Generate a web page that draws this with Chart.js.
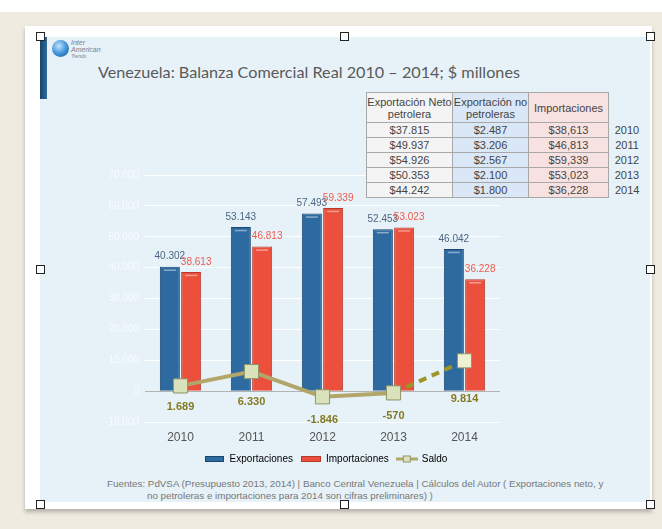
<!DOCTYPE html>
<html>
<head>
<meta charset="utf-8">
<script src="https://cdn.jsdelivr.net/npm/chart.js@4"></script>
<style>
  html, body { margin: 0; padding: 0; width: 662px; height: 529px; overflow: hidden; background: #fff; font-family: "Liberation Sans", Arial, sans-serif; }
  #paper { position: absolute; left: 0; top: 12px; width: 662px; height: 517px; background: #efebe1; }
  #card { position: absolute; left: 25px; top: 26px; width: 627px; height: 483px; background: #fff; box-shadow: 0 3px 4px rgba(0,0,0,0.25); }
  #slide { position: absolute; left: 40px; top: 37px; width: 610px; height: 465px; background: #e6f2f8; }
  #bar { position: absolute; left: 40px; top: 37px; width: 7px; height: 62px; background: linear-gradient(90deg, #17446b, #2f6b9d); }
  #globe { position: absolute; left: 52px; top: 40px; width: 17px; height: 17px; border-radius: 50%; background: radial-gradient(circle at 40% 35%, #bfe3ff, #3a8fd6 55%, #1b4f86); }
  #logo { position: absolute; left: 71px; top: 40px; font: italic 7px "Liberation Sans", Arial, sans-serif; color: #7c8088; line-height: 6.5px; }
  #title { position: absolute; left: 98px; top: 62px; font: 16.2px Lato, "Open Sans", sans-serif; color: #5a5a5a; white-space: nowrap; }
  #tbl { position: absolute; z-index: 2; left: 366px; top: 92px; border-collapse: collapse; font: 11px "Liberation Sans Narrow", "Liberation Sans", Arial, sans-serif; color: #454545; background: #e6f2f8; }
  #tbl td { text-align: center; padding: 0; height: 14px; line-height: 12px; }
  #tbl td.c { border: 1px solid #a8a8a8; }
  #tbl tr.h td { height: 29px; }
  #chart { position: absolute; z-index: 1; left: 100px; top: 163px; }
  #foot { position: absolute; left: 107px; top: 478px; font: 9.8px "Liberation Sans", Arial, sans-serif; color: #777; line-height: 12px; white-space: nowrap; }
  .hd { position: absolute; z-index: 3; width: 7px; height: 7px; border: 1px solid #222; background: #fff; }
</style>
</head>
<body>
<div id="paper"></div>
<div id="card"></div>
<div id="slide"></div>
<div id="bar"></div>
<div id="globe"></div>
<div id="logo">Inter<br>American<br><span style="font-size:5px">Trends</span></div>
<div id="title">Venezuela: Balanza Comercial Real 2010 – 2014; $ millones</div>
<table id="tbl"></table>
<canvas id="chart" width="452" height="316"></canvas>
<div id="foot">Fuentes: PdVSA (Presupuesto 2013, 2014) | Banco Central Venezuela | Cálculos del Autor ( Exportaciones neto, y<br><span style="padding-left:40px">no petroleras e importaciones para 2014 son cifras preliminares) )</span></div>
<script>
// datos
const years = ["2010", "2011", "2012", "2013", "2014"];
const exportaciones = [40302, 53143, 57493, 52453, 46042];
const importaciones = [38613, 46813, 59339, 53023, 36228];
const saldo = [1689, 6330, -1846, -570, 9814];

// tabla
const tablaHeaders = ["Exportación Neto<br>petrolera", "Exportación no<br>petroleras", "Importaciones"];
const netoPetrolera = ["$37.815", "$49.937", "$54.926", "$50.353", "$44.242"];
const noPetroleras = ["$2.487", "$3.206", "$2.567", "$2.100", "$1.800"];
const importTabla = ["$38,613", "$46,813", "$59,339", "$53,023", "$36,228"];

const colBg = ["#f4f4f4", "#d9e7f7", "#f8e1e1"];
const colW = [85, 75, 79];
let html = "<tr class='h'>";
tablaHeaders.forEach((h, i) => {
    html += "<td class='c' style='width:" + colW[i] + "px;background:" + colBg[i] + "'>" + h + "</td>";
});
html += "<td style='width:36px'></td></tr>";
years.forEach((y, i) => {
    html += "<tr>";
    [netoPetrolera, noPetroleras, importTabla].forEach((col, j) => {
        html += "<td class='c' style='background:" + colBg[j] + "'>" + col[i] + "</td>";
    });
    html += "<td>" + y + "</td></tr>";
});
document.getElementById("tbl").innerHTML = html;

// handles
[[40,36],[344,36],[650,36],[40,269],[650,269],[40,504],[344,504],[650,504]].forEach(p => {
    const d = document.createElement("div");
    d.className = "hd";
    d.style.left = (p[0] - 4) + "px";
    d.style.top = (p[1] - 4) + "px";
    document.body.appendChild(d);
});

function fmt(v) {
    const s = Math.abs(v).toString().replace(/\B(?=(\d{3})+(?!\d))/g, ".");
    return (v < 0 ? "-" : "") + s;
}

const BLUE = "#2d6aa0", BLUE_DK = "#1c4670";
const RED = "#ec4f3c", RED_DK = "#b63a2c";
const OLIVE = "#b3a66a", OLIVE_DK = "#9d9527";
const NARROW = "'Liberation Sans Narrow', 'Liberation Sans', Arial, sans-serif";

// legend icons
function icon(w, h, draw) {
    const c = document.createElement("canvas");
    c.width = w; c.height = h;
    draw(c.getContext("2d"));
    return c;
}
const iconBlue = icon(19, 6, g => { g.fillStyle = BLUE_DK; g.fillRect(0, 0, 19, 6); g.fillStyle = BLUE; g.fillRect(1, 1, 17, 4); });
const iconRed = icon(20, 6, g => { g.fillStyle = RED_DK; g.fillRect(0, 0, 20, 6); g.fillStyle = RED; g.fillRect(1, 1, 18, 4); });
const iconSaldo = icon(22, 9, g => {
    g.strokeStyle = OLIVE; g.lineWidth = 3;
    g.beginPath(); g.moveTo(0, 4.5); g.lineTo(22, 4.5); g.stroke();
    g.fillStyle = "#dbe3bd"; g.strokeStyle = "#8f9466"; g.lineWidth = 1;
    g.fillRect(7.5, 1.5, 7, 6); g.strokeRect(7.5, 1.5, 7, 6);
});

const saldoOffsets = [21, 30, 23, 23, 38];

const labelsPlugin = {
    id: "valueLabels",
    afterDatasetsDraw(chart) {
        const ctx = chart.ctx;
        ctx.save();
        // brillo de las barras
        [0, 1].forEach(di => {
            chart.getDatasetMeta(di).data.forEach(el => {
                const w = el.width;
                ctx.strokeStyle = "rgba(255,255,255,0.45)";
                ctx.lineWidth = 1.5;
                ctx.beginPath();
                ctx.moveTo(el.x - w / 2 + 4, el.y + 3.5);
                ctx.lineTo(el.x + w / 2 - 4, el.y + 3.5);
                ctx.stroke();
            });
        });
        ctx.textAlign = "center";
        ctx.textBaseline = "middle";
        ctx.font = "10px " + NARROW;
        chart.getDatasetMeta(0).data.forEach((el, i) => {
            ctx.fillStyle = "#4d6582";
            ctx.fillText(fmt(exportaciones[i]), el.x, el.y - 10);
        });
        chart.getDatasetMeta(1).data.forEach((el, i) => {
            ctx.fillStyle = "#ee5a4c";
            ctx.fillText(fmt(importaciones[i]), el.x + 5, el.y - 10);
        });
        ctx.font = "bold 11px " + NARROW;
        chart.getDatasetMeta(2).data.forEach((el, i) => {
            ctx.fillStyle = "#857a22";
            ctx.fillText(fmt(saldo[i]), el.x, el.y + saldoOffsets[i]);
        });
        ctx.restore();
    }
};

new Chart(document.getElementById("chart"), {
    type: "bar",
    data: {
        labels: years,
        datasets: [
            {
                label: "Exportaciones",
                data: exportaciones,
                backgroundColor: BLUE,
                borderColor: BLUE_DK,
                borderWidth: 1,
                categoryPercentage: 0.6,
                barPercentage: 0.94,
                order: 2
            },
            {
                label: "Importaciones",
                data: importaciones,
                backgroundColor: RED,
                borderColor: RED_DK,
                borderWidth: 1,
                categoryPercentage: 0.6,
                barPercentage: 0.94,
                order: 2
            },
            {
                type: "line",
                label: "Saldo",
                data: saldo,
                borderColor: OLIVE,
                borderWidth: 4,
                segment: {
                    borderColor: c => c.p1DataIndex === 4 ? OLIVE_DK : OLIVE,
                    borderDash: c => c.p1DataIndex === 4 ? [8, 6] : undefined
                },
                pointStyle: "rect",
                pointRadius: 10,
                pointBackgroundColor: ["#d9e2bb", "#d9e2bb", "#d9e2bb", "#d9e2bb", "#eef1d2"],
                pointBorderColor: "#8f9466",
                pointBorderWidth: 1,
                order: 0
            }
        ]
    },
    options: {
        responsive: false,
        animation: false,
        devicePixelRatio: 1,
        layout: { padding: { top: 11, bottom: 5 } },
        plugins: {
            tooltip: { enabled: false },
            legend: {
                position: "bottom",
                labels: {
                    usePointStyle: true,
                    pointStyleWidth: 20,
                    boxHeight: 10,
                    padding: 8,
                    color: "#555",
                    font: { family: "'Liberation Sans', Arial, sans-serif", size: 10 },
                    generateLabels: () => [
                        { text: "Exportaciones", pointStyle: iconBlue, fillStyle: BLUE, strokeStyle: BLUE, lineWidth: 0, hidden: false, datasetIndex: 0 },
                        { text: "Importaciones", pointStyle: iconRed, fillStyle: RED, strokeStyle: RED, lineWidth: 0, hidden: false, datasetIndex: 1 },
                        { text: "Saldo", pointStyle: iconSaldo, fillStyle: OLIVE, strokeStyle: OLIVE, lineWidth: 0, hidden: false, datasetIndex: 2 }
                    ]
                }
            }
        },
        scales: {
            x: {
                afterFit(s) { s.height = 24; },
                grid: { display: false, drawTicks: false },
                border: { display: false },
                ticks: {
                    padding: 8,
                    color: "#555",
                    font: { family: "'Liberation Sans', Arial, sans-serif", size: 12 }
                }
            },
            y: {
                min: -10000,
                max: 70000,
                afterFit(s) { s.width = 45; },
                grid: {
                    drawTicks: false,
                    color: c => c.tick.value === 0 ? "#b3b3b3" : "rgba(255,255,255,0.95)"
                },
                border: { display: false },
                ticks: {
                    stepSize: 10000,
                    padding: 6,
                    color: "rgba(255,255,255,0.75)",
                    font: { family: "'Liberation Sans', Arial, sans-serif", size: 10 },
                    callback: v => fmt(v)
                }
            },
            y2: {
                position: "right",
                afterFit(s) { s.width = 52; },
                grid: { display: false },
                border: { display: false },
                ticks: { display: false }
            }
        }
    },
    plugins: [labelsPlugin]
});
</script>
</body>
</html>
